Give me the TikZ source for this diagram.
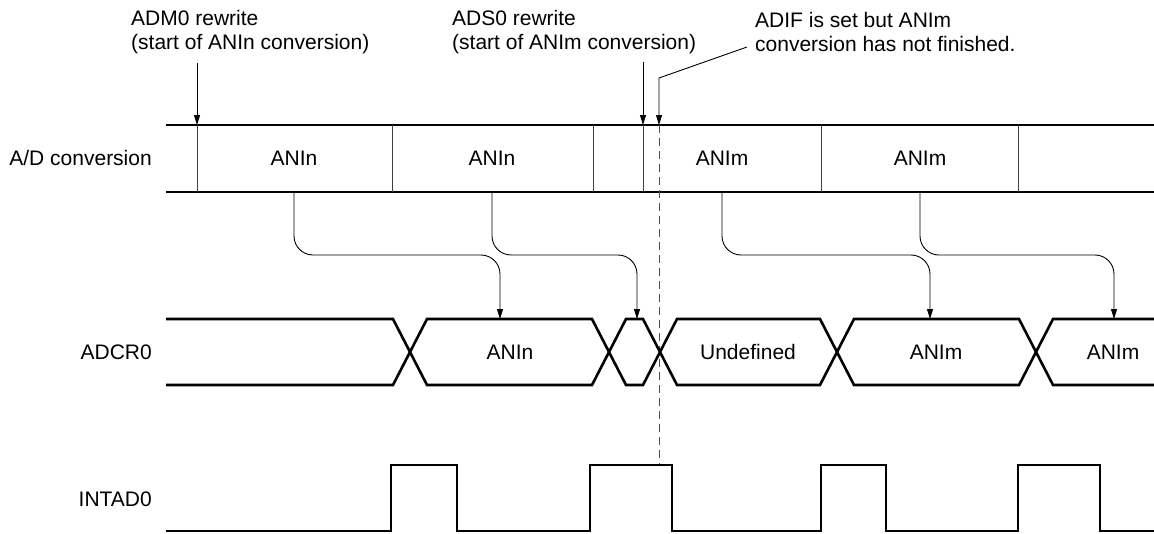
\documentclass[tikz,border=0pt]{standalone}
\usepackage{fontspec}
\setmainfont{Liberation Sans}
\usetikzlibrary{calc,arrows.meta,positioning}

\tikzset{
  bus/.style={line width=2.6pt},
  divline/.style={line width=0.9pt, black!75},
  conn/.style={line width=0.9pt, rounded corners=19pt, -{Triangle[length=10pt,width=6pt]}},
  mark arrow/.style={line width=0.9pt, -{Triangle[length=10pt,width=6pt]}},
  lbl/.style={inner sep=0pt, font=\fontsize{21pt}{24pt}\selectfont},
  note/.style={lbl, align=left, anchor=west},
}

\begin{document}
\begin{tikzpicture}[x=1pt,y=-1pt]
\useasboundingbox (0,0) rectangle (1154,533);
\coordinate (AT) at (166,125);
\coordinate (AB) at (166,192);
\coordinate (RT) at (166,319);
\coordinate (RB) at (166,385);

\node[lbl, anchor=east] (adname) at (152,158) {A/D conversion};
\node[lbl, anchor=east] (crname) at (152,352) {ADCR0};
\node[lbl, anchor=east] (inname) at (152,499) {INTAD0};

\node[note] (adm) at (131,32) {ADM0 rewrite\\(start of ANIn conversion)};
\node[note] (ads) at (452,32) {ADS0 rewrite\\(start of ANIm conversion)};
\node[note] (adif) at (755,32) {ADIF is set but ANIm\\conversion has not finished.};

% A/D conversion row
\draw[bus] (AT) -- (AT -| 1154,0);
\draw[bus] (AB) -- (AB -| 1154,0);
\foreach \x in {392,593,821,1018}
  \draw[divline] (\x,125) -- (\x,192);
\draw[divline] (197,125) -- (197,192);
\draw[divline] (643,125) -- (643,192);
\node[lbl] (ad1) at (294,158) {ANIn};
\node[lbl] (ad2) at (492,158) {ANIn};
\node[lbl] (ad3) at (722,158) {ANIm};
\node[lbl] (ad4) at (920,158) {ANIm};

\coordinate (m1) at (197,63);
\coordinate (m2) at (643,62);
\coordinate (lead) at (747,47);
\coordinate (bend) at (659,78);
\draw[mark arrow] (m1) -- (m1 |- AT);
\draw[mark arrow] (m2) -- (m2 |- AT);
\draw[mark arrow] (lead) -- (bend) -- (bend |- AT);
\draw[line width=1pt, black!70, dash pattern=on 8pt off 5pt] (bend |- AT) -- (659,465);

% ADCR0 row
\draw[bus] (166,319) -- (393,319) -- (427,385) -- (592,385) -- (626,319) -- (643,319)
  -- (677,385) -- (820,385) -- (854,319) -- (1019,319) -- (1053,385) -- (1154,385);
\draw[bus] (166,385) -- (393,385) -- (427,319) -- (592,319) -- (626,385) -- (643,385)
  -- (677,319) -- (820,319) -- (854,385) -- (1019,385) -- (1053,319) -- (1154,319);
\node[lbl] (cr1) at (510,352) {ANIn};
\node[lbl] (cr2) at (748,352) {Undefined};
\node[lbl] (cr3) at (936,352) {ANIm};
\node[lbl] (cr4) at (1113,352) {ANIm};

\coordinate (t1) at (500,319);
\coordinate (t2) at (637,319);
\coordinate (t3) at (930,319);
\coordinate (t4) at (1114,319);
\draw[conn] (ad1 |- AB) -- ++(0,63) -| (t1);
\draw[conn] (ad2 |- AB) -- ++(0,63) -| (t2);
\draw[conn] (ad3 |- AB) -- ++(0,63) -| (t3);
\draw[conn] (ad4 |- AB) -- ++(0,63) -| (t4);

% INTAD0 row
\draw[bus] (166,531)
  \foreach \r/\f in {391/457,590/672,821/886,1018/1100} { -- (\r,531) -- (\r,465) -- (\f,465) -- (\f,531) }
  -- (1154,531);
\end{tikzpicture}
\end{document}
